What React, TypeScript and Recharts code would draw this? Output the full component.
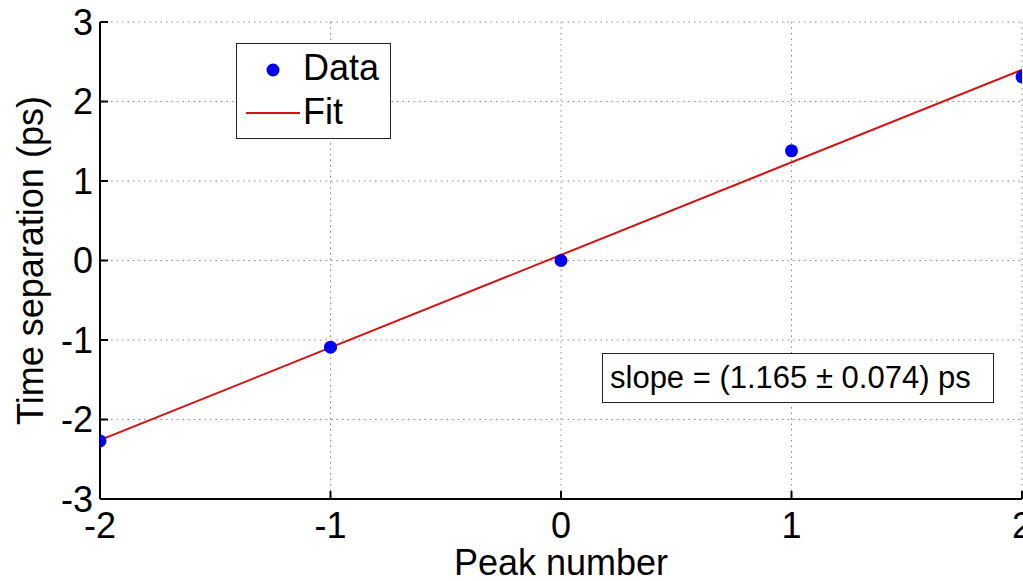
import React from 'react';
import { ComposedChart, Scatter, Line, XAxis, YAxis, CartesianGrid, Legend } from 'recharts';

const peakNumbers = [-2, -1, 0, 1, 2];
const timeSeparation = [-2.27, -1.09, 0.0, 1.38, 2.31];
const fitX = [-2, 2];
const fitY = [-2.26, 2.40];
const xTicks = [-2, -1, 0, 1, 2];
const yTicks = [-3, -2, -1, 0, 1, 2, 3];
const xLabel = 'Peak number';
const yLabel = 'Time separation (ps)';
const slopeText = 'slope = (1.165 \u00B1 0.074) ps';

const dataPoints = peakNumbers.map((x, i) => ({ x, y: timeSeparation[i] }));
const fitPoints = fitX.map((x, i) => ({ x, y: fitY[i] }));

const FONT = '"Liberation Sans", Arial, sans-serif';
const BLUE = '#0000f0';
const RED = '#d41414';

const Dot = (props: any) => <circle cx={props.cx} cy={props.cy} r={6.5} fill={BLUE} />;

const LegendBox = () => (
  <div
    style={{
      width: 153,
      height: 94,
      border: '1.5px solid #222',
      background: '#fff',
      fontFamily: FONT,
      fontSize: 36,
      color: '#000',
      position: 'relative',
    }}
  >
    <svg width={70} height={94} style={{ position: 'absolute', left: 0, top: 0 }}>
      <circle cx={36} cy={26} r={6.5} fill={BLUE} />
      <line x1={9} x2={63} y1={69} y2={69} stroke={RED} strokeWidth={2} />
    </svg>
    <div style={{ position: 'absolute', left: 66, top: 4, lineHeight: '40px' }}>Data</div>
    <div style={{ position: 'absolute', left: 66, top: 48, lineHeight: '40px' }}>Fit</div>
  </div>
);

const YLabel = (props: any) => {
  const vb = props.viewBox || {};
  const cx = 43;
  const cy = vb.y + vb.height / 2;
  return (
    <text
      x={cx}
      y={cy}
      transform={`rotate(-90, ${cx}, ${cy})`}
      textAnchor="middle"
      fontSize={36}
      fontFamily={FONT}
      fill="#000"
    >
      {yLabel}
    </text>
  );
};

export default function App() {
  return (
    <div style={{ position: 'absolute', left: 0, top: 0, width: 1023, height: 581, background: '#fff', fontFamily: FONT }}>
      <ComposedChart
        width={1023}
        height={581}
        margin={{ top: 22, right: 1, bottom: 0, left: 0 }}
        style={{ fontFamily: FONT }}
      >
        <CartesianGrid stroke="#888" strokeDasharray="1.5 4" />
        <XAxis
          xAxisId={0}
          type="number"
          dataKey="x"
          domain={[-2, 2]}
          ticks={xTicks}
          allowDataOverflow
          height={82}
          axisLine={{ stroke: '#000', strokeWidth: 2 }}
          tickLine={{ stroke: '#000', strokeWidth: 2 }}
          tickSize={-8}
          tickMargin={21}
          tick={{ fill: '#000', fontSize: 36, fontFamily: FONT }}
          interval={0}
          label={{ value: xLabel, position: 'insideBottom', offset: 6, fill: '#000', fontSize: 36, fontFamily: FONT }}
        />
        <XAxis
          xAxisId="top"
          orientation="top"
          type="number"
          domain={[-2, 2]}
          ticks={xTicks}
          allowDataOverflow
          height={0}
          axisLine={{ stroke: '#000', strokeWidth: 2 }}
          tickLine={{ stroke: '#000', strokeWidth: 2 }}
          tickSize={-8}
          tick={false}
        />
        <YAxis
          yAxisId={0}
          type="number"
          dataKey="y"
          domain={[-3, 3]}
          ticks={yTicks}
          allowDataOverflow
          width={100}
          axisLine={{ stroke: '#000', strokeWidth: 2 }}
          tickLine={{ stroke: '#000', strokeWidth: 2 }}
          tickSize={-8}
          tickMargin={15}
          tick={{ fill: '#000', fontSize: 36, fontFamily: FONT }}
          interval={0}
          label={<YLabel />}
        />
        <YAxis
          yAxisId="right"
          orientation="right"
          type="number"
          domain={[-3, 3]}
          ticks={yTicks}
          allowDataOverflow
          width={0}
          axisLine={{ stroke: '#000', strokeWidth: 2 }}
          tickLine={{ stroke: '#000', strokeWidth: 2 }}
          tickSize={-8}
          tick={false}
        />
        <Scatter name="Data" data={dataPoints} dataKey="y" fill={BLUE} shape={Dot} isAnimationActive={false} />
        <Line
          name="Fit"
          data={fitPoints}
          dataKey="y"
          type="linear"
          stroke={RED}
          strokeWidth={2}
          dot={false}
          activeDot={false}
          isAnimationActive={false}
        />
        <Legend
          layout="horizontal"
          verticalAlign="middle"
          align="center"
          content={<LegendBox />}
          wrapperStyle={{ left: 236, top: 43, width: 156, height: 97 }}
        />
      </ComposedChart>
      <div
        style={{
          position: 'absolute',
          left: 602,
          top: 353,
          width: 383,
          height: 48,
          border: '1.5px solid #222',
          background: '#fff',
          fontFamily: FONT,
          fontSize: 31,
          lineHeight: '48px',
          paddingLeft: 7,
          boxSizing: 'content-box',
          color: '#000',
          whiteSpace: 'nowrap',
        }}
      >
        {slopeText}
      </div>
    </div>
  );
}
